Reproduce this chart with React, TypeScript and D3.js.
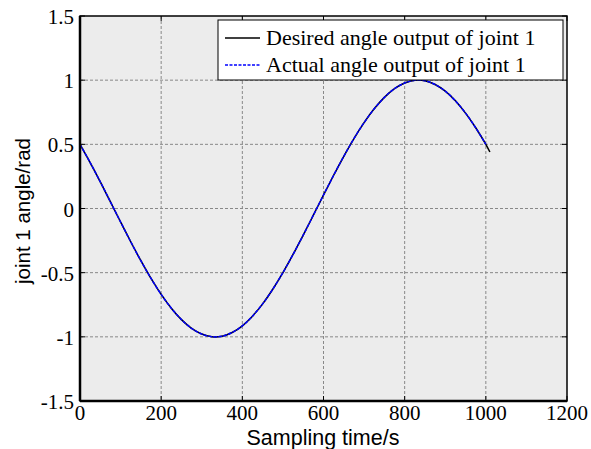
import React from "react";
import * as d3 from "d3";

const desiredX = [0,25,50,75,100,125,150,175,200,225,250,275,300,325,350,375,400,425,450,475,500,525,550,575,600,625,650,675,700,725,750,775,800,825,850,875,900,925,950,975,1000,1010];
const desiredY = [0.5,0.358,0.208,0.052,-0.105,-0.259,-0.407,-0.545,-0.669,-0.777,-0.866,-0.934,-0.978,-0.999,-0.995,-0.966,-0.914,-0.839,-0.743,-0.629,-0.5,-0.358,-0.208,-0.052,0.105,0.259,0.407,0.545,0.669,0.777,0.866,0.934,0.978,0.999,0.995,0.966,0.914,0.839,0.743,0.629,0.5,0.44];
const actualX = [0,25,50,75,100,125,150,175,200,225,250,275,300,325,350,375,400,425,450,475,500,525,550,575,600,625,650,675,700,725,750,775,800,825,850,875,900,925,950,975,1000];
const actualY = [0.5,0.358,0.208,0.052,-0.105,-0.259,-0.407,-0.545,-0.669,-0.777,-0.866,-0.934,-0.978,-0.999,-0.995,-0.966,-0.914,-0.839,-0.743,-0.629,-0.5,-0.358,-0.208,-0.052,0.105,0.259,0.407,0.545,0.669,0.777,0.866,0.934,0.978,0.999,0.995,0.966,0.914,0.839,0.743,0.629,0.5];
const xTicks = [0,200,400,600,800,1000,1200];
const yTicks = [-1.5,-1,-0.5,0,0.5,1,1.5];
const legendLabels = ["Desired angle output of joint 1", "Actual angle output of joint 1"];

export default function App() {
  const W = 591, H = 449;
  const L = 80, R = 567, T = 16, B = 401;
  const x = d3.scaleLinear().domain([0, 1200]).range([L, R]);
  const y = d3.scaleLinear().domain([-1.5, 1.5]).range([B, T]);
  const line = d3.line<[number, number]>().x(d => x(d[0])).y(d => y(d[1])).curve(d3.curveCatmullRom);
  const dPath = line(desiredX.map((v, i) => [v, desiredY[i]]) as [number, number][]) || "";
  const aPath = line(actualX.map((v, i) => [v, actualY[i]]) as [number, number][]) || "";
  const serif = "'Liberation Serif', 'Times New Roman', serif";
  const sans = "'Liberation Sans', Arial, sans-serif";
  return (
    <svg width={W} height={H} style={{ position: "absolute", left: 0, top: 0, background: "#fff" }}>
      <rect x={L} y={T} width={R - L} height={B - T} fill="#ececec" />
      {xTicks.slice(1, -1).map(t => (
        <line key={"gx" + t} x1={x(t)} x2={x(t)} y1={T} y2={B} stroke="#888" strokeWidth={1} strokeDasharray="3,2" />
      ))}
      {yTicks.slice(1, -1).map(t => (
        <line key={"gy" + t} x1={L} x2={R} y1={y(t)} y2={y(t)} stroke="#888" strokeWidth={1} strokeDasharray="3,2" />
      ))}
      {xTicks.map(t => (
        <g key={"tx" + t}>
          <line x1={x(t)} x2={x(t)} y1={B} y2={B - 5} stroke="#000" />
          <line x1={x(t)} x2={x(t)} y1={T} y2={T + 5} stroke="#000" />
          <text x={x(t)} y={420} textAnchor="middle" fontFamily={serif} fontSize={21} fill="#000">{t}</text>
        </g>
      ))}
      {yTicks.map(t => (
        <g key={"ty" + t}>
          <line x1={L} x2={L + 5} y1={y(t)} y2={y(t)} stroke="#000" />
          <line x1={R} x2={R - 5} y1={y(t)} y2={y(t)} stroke="#000" />
          <text x={74} y={y(t) + 8} textAnchor="end" fontFamily={serif} fontSize={21} fill="#000">{t}</text>
        </g>
      ))}
      <path d={dPath} fill="none" stroke="#000" strokeWidth={1.5} />
      <path d={aPath} fill="none" stroke="#0000ff" strokeWidth={1.5} strokeDasharray="4,1" />
      <rect x={L} y={T} width={R - L} height={B - T} fill="none" stroke="#000" strokeWidth={1.5} />
      <line x1={L} x2={L} y1={T} y2={B} stroke="#000" strokeWidth={2.5} />
      <line x1={L} x2={R} y1={B} y2={B} stroke="#000" strokeWidth={2.5} />
      <g>
        <rect x={218} y={20} width={345} height={60} fill="#fff" stroke="#000" strokeWidth={1} />
        <line x1={225} x2={260} y1={38} y2={38} stroke="#000" strokeWidth={1.5} />
        <line x1={225} x2={260} y1={65} y2={65} stroke="#0000ff" strokeWidth={1.5} strokeDasharray="3,1.5" />
        <text x={266} y={45} fontFamily={serif} fontSize={22} fill="#000">{legendLabels[0]}</text>
        <text x={266} y={72} fontFamily={serif} fontSize={22} fill="#000">{legendLabels[1]}</text>
      </g>
      <text x={323} y={445} textAnchor="middle" fontFamily={sans} fontSize={21.5} fill="#000">Sampling time/s</text>
      <text transform="translate(30,211) rotate(-90)" textAnchor="middle" fontFamily={sans} fontSize={20.5} fill="#000">joint 1 angle/rad</text>
    </svg>
  );
}
